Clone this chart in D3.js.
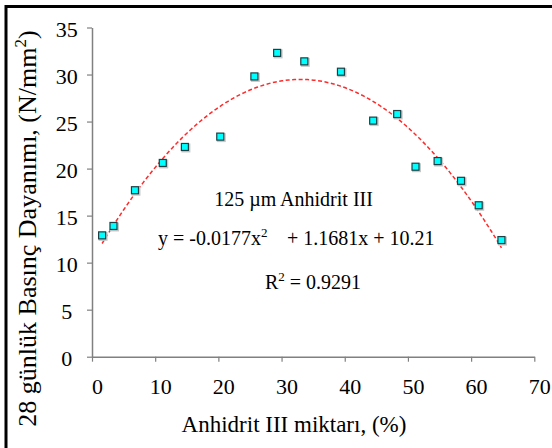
<!DOCTYPE html>
<html>
<head>
<meta charset="utf-8">
<script src="https://cdn.jsdelivr.net/npm/d3@7"></script>
<style>
  body { margin: 0; background: #fff; }
  svg { display: block; }
  svg text { font-family: "Liberation Serif", "Times New Roman", serif; }
</style>
</head>
<body>
<svg width="552" height="448"></svg>
<script>
// Anhidrit III ratio (%) vs 28-day compressive strength (N/mm2)
const anhidritPct = [1.6, 3.4, 6.8, 11.2, 14.7, 20.3, 25.7, 29.3, 33.6, 39.4, 44.5, 48.3, 51.2, 54.7, 58.4, 61.2, 64.8];
const strength28 = [12.9, 13.9, 17.7, 20.6, 22.3, 23.4, 29.8, 32.3, 31.4, 30.3, 25.1, 25.8, 20.2, 20.8, 18.7, 16.1, 12.4];
// polynomial trend line: a*x^2 + b*x + c
const fitCoef = [-0.0177, 1.1681, 10.21];
const xTicks = [0, 10, 20, 30, 40, 50, 60, 70];
const yTicks = [0, 5, 10, 15, 20, 25, 30, 35];

const svg = d3.select("svg");

// outer frame (right / bottom edges fall outside the picture)
svg.append("rect")
  .attr("x", 6).attr("y", 6.5)
  .attr("width", 580).attr("height", 480)
  .attr("fill", "none").attr("stroke", "#000").attr("stroke-width", 3);

const x = d3.scaleLinear().domain([0, 70]).range([92, 534.3]);
const y = d3.scaleLinear().domain([0, 35]).range([356.7, 27.5]);

// x axis
const gx = svg.append("g")
  .attr("transform", `translate(0,${y(0)})`)
  .call(d3.axisBottom(x).tickValues(xTicks).tickSize(5).tickSizeOuter(0))
  .attr("font-family", null).attr("font-size", 22);
gx.select(".domain").attr("stroke", "#808080").attr("stroke-width", 1.5);
gx.selectAll(".tick line").attr("stroke", "#808080").attr("stroke-width", 1.2);
gx.selectAll(".tick text")
  .attr("fill", "#000")
  .attr("x", 5).attr("y", 37.3).attr("dy", 0);

// y axis
const gy = svg.append("g")
  .attr("transform", `translate(${x(0)},0)`)
  .call(d3.axisLeft(y).tickValues(yTicks).tickSize(5).tickSizeOuter(0))
  .attr("font-family", null).attr("font-size", 22);
gy.select(".domain").attr("stroke", "#808080").attr("stroke-width", 1.5);
gy.selectAll(".tick line").attr("stroke", "#808080").attr("stroke-width", 1.2);
gy.selectAll(".tick text")
  .attr("fill", "#000")
  .attr("text-anchor", "middle").attr("x", -25.3).attr("y", 8.5).attr("dy", 0);

// trend line from the fitted coefficients, over the data's x span
const poly = v => fitCoef[0] * v * v + fitCoef[1] * v + fitCoef[2];
const xMin = d3.min(anhidritPct), xMax = d3.max(anhidritPct);
const fitX = d3.range(xMin, xMax, 0.5).concat([xMax]);
svg.append("path")
  .datum(fitX)
  .attr("fill", "none")
  .attr("stroke", "#ff2a2a")
  .attr("stroke-width", 1.5)
  .attr("stroke-dasharray", "4,2.5")
  .attr("d", d3.line().x(d => x(d)).y(d => y(poly(d))));

// markers
const pts = anhidritPct.map((v, i) => ({ x: v, y: strength28[i] }));
const ms = 8;
svg.append("g").selectAll("rect.shadow")
  .data(pts).enter().append("rect")
  .attr("class", "shadow")
  .attr("x", d => x(d.x) - ms / 2 + 0.5)
  .attr("y", d => y(d.y) - ms / 2 + 0.5)
  .attr("width", ms + 1).attr("height", ms + 1)
  .attr("fill", "#c8c8c8");
svg.append("g").selectAll("rect.pt")
  .data(pts).enter().append("rect")
  .attr("class", "pt")
  .attr("x", d => x(d.x) - ms / 2 + 0.5)
  .attr("y", d => y(d.y) - ms / 2 + 0.5)
  .attr("width", ms - 1).attr("height", ms - 1)
  .attr("fill", "#00ffff")
  .attr("stroke", "#1f3f44").attr("stroke-width", 1.2);

// annotation
const ann = svg.append("g").attr("font-size", 20).attr("fill", "#000");
ann.append("text").attr("x", 293.5).attr("y", 206).attr("text-anchor", "middle")
  .text("125 \u00b5m Anhidrit III");
const eq1 = ann.append("text").attr("x", 158).attr("y", 245);
eq1.append("tspan").text("y = -0.0177x");
eq1.append("tspan").attr("font-size", 13).attr("dy", -8).text("2");
ann.append("text").attr("x", 287).attr("y", 245).text("+ 1.1681x + 10.21");
const r2 = ann.append("text").attr("x", 265).attr("y", 289);
r2.append("tspan").text("R");
r2.append("tspan").attr("font-size", 13).attr("dy", -8).text("2");
r2.append("tspan").attr("dy", 8).text(" = 0.9291");

// axis titles
svg.append("text")
  .attr("x", 294).attr("y", 432).attr("text-anchor", "middle")
  .attr("font-size", 23).attr("fill", "#000")
  .text("Anhidrit III miktarı, (%)");

const yt = svg.append("text")
  .attr("transform", "translate(36,228.5) rotate(-90)")
  .attr("text-anchor", "middle")
  .attr("font-size", 26).attr("fill", "#000");
yt.append("tspan").text("28 günlük Basınç Dayanımı, (N/mm");
yt.append("tspan").attr("font-size", 17).attr("dy", -10).text("2");
yt.append("tspan").attr("dy", 10).text(")");
</script>
</body>
</html>
